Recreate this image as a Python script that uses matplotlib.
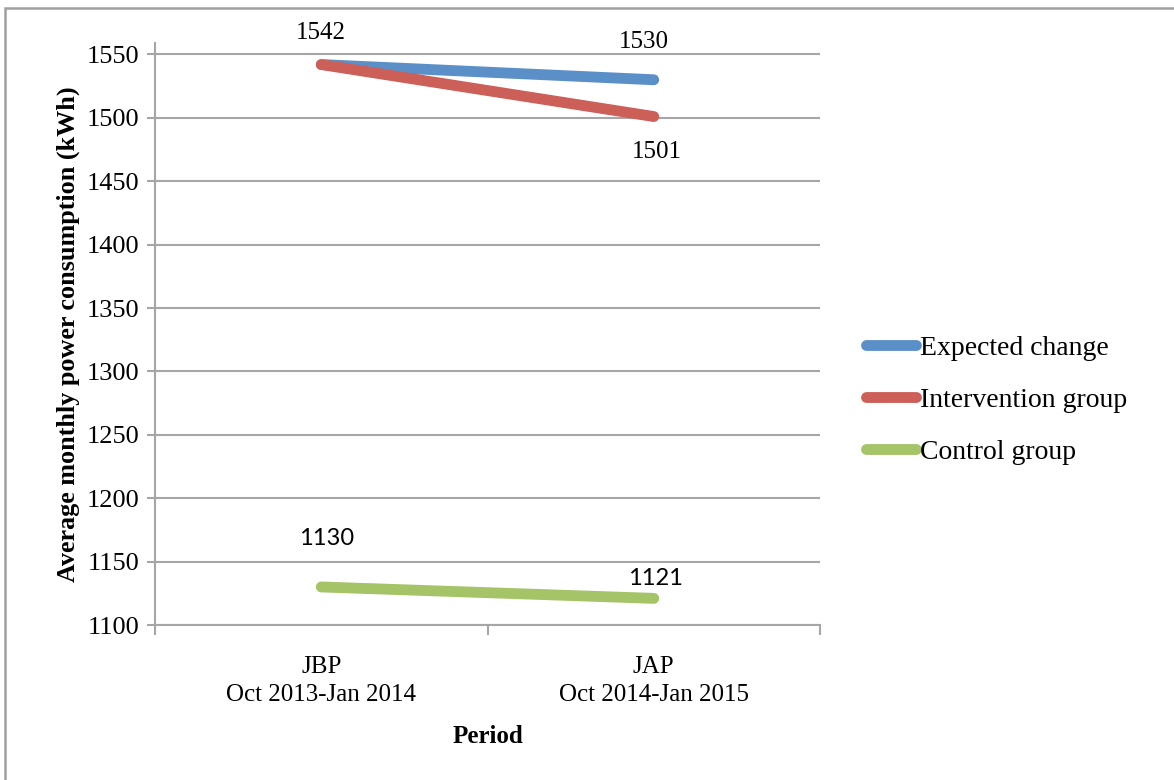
import matplotlib.pyplot as plt
from matplotlib.patches import Rectangle

# average monthly consumption per period (kWh)
periods = ["JBP\nOct 2013-Jan 2014", "JAP\nOct 2014-Jan 2015"]
expected = [1542, 1530]
intervention = [1542, 1501]
control = [1130, 1121]

serif = "Liberation Serif"
sans = "Lato"

fig = plt.figure(figsize=(11.74, 7.8), dpi=100)
ax = fig.add_axes([155 / 1174, 155 / 780, 665 / 1174, 582 / 780])

x = [0, 1]
l1, = ax.plot(x, expected, color="#5B8FC8", lw=7.8, solid_capstyle="round", zorder=3)
l2, = ax.plot(x, intervention, color="#CC5F57", lw=7.8, solid_capstyle="round", zorder=4)
l3, = ax.plot(x, control, color="#A5C367", lw=7.8, solid_capstyle="round", zorder=3)

ax.set_xlim(-0.5, 1.5)
ax.set_ylim(1100, 1559)
ax.set_yticks(range(1100, 1551, 50))
ax.yaxis.grid(True, color="#A6A6A6", lw=1.5)
ax.set_axisbelow(True)
for s in ["top", "right"]:
    ax.spines[s].set_visible(False)
ax.spines["left"].set_color("#A6A6A6")
ax.spines["bottom"].set_color("#A6A6A6")
ax.spines["left"].set_linewidth(1.5)
ax.spines["bottom"].set_linewidth(1.5)

# category boundaries carry the x tick marks
ax.set_xticks([-0.5, 0.5, 1.5])
ax.set_xticklabels([])
ax.set_xticks(x, minor=True)
ax.set_xticklabels(periods, minor=True, fontsize=18, family=serif, linespacing=1.35)
ax.tick_params(axis="x", which="minor", length=0, pad=22)
ax.tick_params(axis="x", which="major", length=7, width=1.5, color="#A6A6A6", direction="out")
ax.tick_params(axis="y", length=6, width=1.5, color="#A6A6A6", labelsize=19, pad=5)
for t in ax.get_yticklabels():
    t.set_family(serif)

ax.set_ylabel("Average monthly power consumption (kWh)", fontsize=18.8,
              family=serif, fontweight="bold", labelpad=5)
ax.set_xlabel("Period", fontsize=18, family=serif, fontweight="bold", labelpad=14)

# value labels
def label(xv, yv, dx, dy, fam, size):
    ax.annotate(str(yv), (xv, yv), xytext=(dx, dy), textcoords="offset points",
                ha="center", va="center", fontsize=size, family=fam)

label(x[0], expected[0], 0, 23, serif, 18)
label(x[1], expected[1], -7, 27, serif, 18)
label(x[1], intervention[1], 2, -25.5, serif, 18)
label(x[0], control[0], 4, 35, sans, 17)
label(x[1], control[1], 1.5, 14, sans, 17)

fig.legend([l1, l2, l3], ["Expected change", "Intervention group", "Control group"],
           loc="center left", bbox_to_anchor=(841 / 1174, 1 - 400 / 780),
           frameon=False, prop={"family": serif, "size": 20},
           handlelength=1.8, handletextpad=0.15, labelspacing=0.95)

fig.patches.append(Rectangle((5 / 1174, -0.1), 1.2, 1 - 8 / 780 + 0.1,
                             transform=fig.transFigure, fill=False,
                             edgecolor="#A0A0A0", lw=1.8))

fig.savefig("out.png", dpi=100)
